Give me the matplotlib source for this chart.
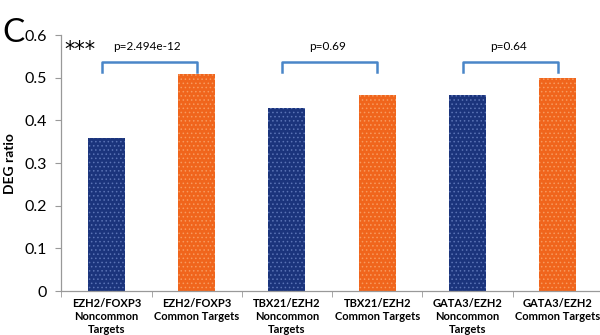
import numpy as np
import matplotlib
matplotlib.use("Agg")
import matplotlib.pyplot as plt

plt.rcParams['font.family'] = ['Lato', 'DejaVu Sans']
plt.rcParams['hatch.linewidth'] = 0.6

categories = ["EZH2/FOXP3\nNoncommon\nTargets", "EZH2/FOXP3\nCommon Targets",
              "TBX21/EZH2\nNoncommon\nTargets", "TBX21/EZH2\nCommon Targets",
              "GATA3/EZH2\nNoncommon\nTargets", "GATA3/EZH2\nCommon Targets"]
deg_ratio = [0.36, 0.51, 0.43, 0.46, 0.46, 0.50]
pairs = [(0, 1), (2, 3), (4, 5)]
p_labels = ["p=2.494e-12", "p=0.69", "p=0.64"]

navy = "#1b347c"
orange = "#f0651c"
bar_colors = [navy, orange] * 3
hatch_colors = ["#5a73b5", "#f79a5e"] * 3

fig = plt.figure(figsize=(6, 3.35), dpi=100)
ax = fig.add_axes([0.102, 0.131, 0.903, 0.764])

x = np.arange(len(categories))
for i in range(len(categories)):
    ax.bar(x[i], deg_ratio[i], width=0.41, color=bar_colors[i],
           edgecolor=hatch_colors[i], linewidth=0, hatch='....')

# brackets with p values
for (a, b), txt in zip(pairs, p_labels):
    ax.plot([a - 0.05, a - 0.05, b, b], [0.513, 0.536, 0.536, 0.513],
            color="#4a86c8", lw=1.8, clip_on=False)
    ax.text((a + b) / 2 - 0.05, 0.573, txt, ha='center', va='center', fontsize=8.5)

ax.text(0.006, 0.566, "***", fontsize=15, ha='left', va='center',
        family='DejaVu Sans', transform=ax.get_yaxis_transform())

ax.set_xlim(-0.5, 5.5)
ax.set_ylim(0, 0.6)
ax.set_yticks([0, 0.1, 0.2, 0.3, 0.4, 0.5, 0.6])
ax.set_yticklabels(["0", "0.1", "0.2", "0.3", "0.4", "0.5", "0.6"], fontsize=11.5)
ax.set_xticks(x)
ax.set_xticklabels(categories, fontsize=8.0, fontweight='bold', linespacing=1.2)
ax.set_xticks(np.arange(-0.5, 6, 1), minor=True)
ax.tick_params(axis='x', which='major', length=0, pad=5)
ax.tick_params(axis='x', which='minor', length=4, color='#999999')
ax.tick_params(axis='y', length=4, color='#999999', pad=6)
ax.set_ylabel("DEG ratio", fontsize=10, fontweight='bold', labelpad=6)

for s in ['top', 'right']:
    ax.spines[s].set_visible(False)
for s in ['left', 'bottom']:
    ax.spines[s].set_color('#999999')
    ax.spines[s].set_linewidth(0.9)

fig.text(0.004, 0.9, "C", fontsize=24, ha='left', va='center')

fig.savefig("out.png", dpi=100)
